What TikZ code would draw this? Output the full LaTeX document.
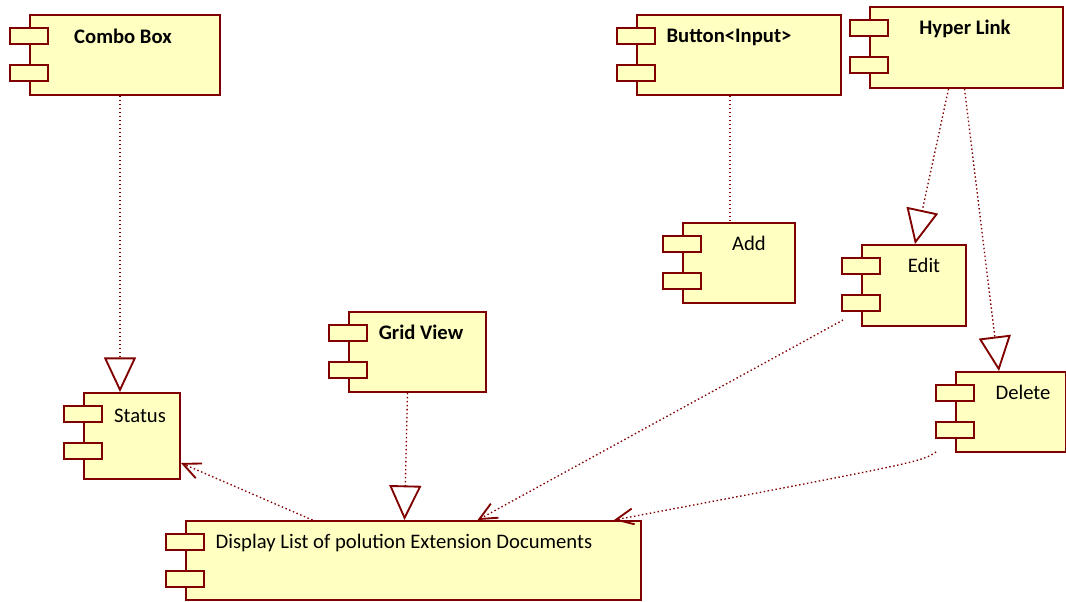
\documentclass[tikz,border=0pt]{standalone}
\usepackage{fontspec}
\setmainfont{Carlito}
\usetikzlibrary{arrows.meta,fit,calc}
\definecolor{compred}{RGB}{128,0,0}
\definecolor{compyellow}{RGB}{255,255,194}

\begin{document}
\begin{tikzpicture}[
        x=0.75pt, y=-0.75pt,
        comp/.style={draw=compred, fill=compyellow, line width=1.4pt, inner sep=0pt},
        tab/.style={draw=compred, fill=compyellow, line width=1.4pt, inner sep=0pt,
            minimum width=28pt, minimum height=12.5pt},
        title/.style={anchor=base, inner sep=0pt, font=\fontsize{15.5}{18}\selectfont},
        boldtitle/.style={title, font=\fontsize{15.5}{18}\selectfont\bfseries},
        dep/.style={draw=compred, line width=1pt, dash pattern=on 1.1pt off 1.9pt},
        realize/.style={dep, -{Triangle[open, length=26pt, width=24pt, line width=1.4pt]}},
        use/.style={dep, -{Straight Barb[length=13pt, width=12pt, line width=1.4pt]}}
    ]

    \useasboundingbox (0,0) rectangle (1066,601);

    % --- Components ---
    \node[comp, fit={(30,15) (220,95)}] (combo) {};
    \node[comp, fit={(637,15) (841,95)}] (button) {};
    \node[comp, fit={(870,7) (1063,88)}] (hyper) {};
    \node[comp, fit={(683,223) (795,303)}] (add) {};
    \node[comp, fit={(862,245) (966,326)}] (edit) {};
    \node[comp, fit={(956,372) (1066,452)}] (delete) {};
    \node[comp, fit={(84,393) (180,479)}] (status) {};
    \node[comp, fit={(349,312) (486,392)}] (grid) {};
    \node[comp, fit={(186,521) (641,600)}] (display) {};

    % the two little tabs on the left side
    \foreach \c in {combo,button,hyper,add,edit,delete,status,grid,display} {
        \node[tab] (\c-a) at ($(\c.north west)+(0,22)$) {};
        \node[tab] (\c-b) at ($(\c.north west)+(0,59)$) {};
    }

    % --- Titles ---
    \node[boldtitle] (combo-l) at (123,43) {Combo Box};
    \node[boldtitle] (button-l) at (729,42) {Button<Input>};
    \node[boldtitle] (hyper-l) at (965,34) {Hyper Link};
    \node[title] (add-l) at (749,250) {Add};
    \node[title] (edit-l) at (924,272) {Edit};
    \node[title] (delete-l) at (1023,399) {Delete};
    \node[title] (status-l) at (140,422) {Status};
    \node[boldtitle] (grid-l) at (421,339) {Grid View};
    \node[title] (display-l) at (404,548) {Display List of polution Extension Documents};

    % --- Dependencies ---
    \draw[realize] ($(combo.south)+(-5,0)$) -- ($(status.north)+(-12,0)$);
    \draw[dep] ($(button.south)+(-9,0)$) -- ($(add.north)+(-9,0)$);
    \draw[realize] ($(hyper.south)+(-18,0)$) -- ($(edit.north)+(1,0)$);
    \draw[realize] ($(hyper.south)+(-2,0)$) -- ($(delete.north)+(-12,0)$);
    \draw[realize] ($(grid.south)+(-10,0)$) -- ($(display.north)+(-9,0)$);

    \draw[use] ($(display.north)+(-101,0)$) -- ($(status.east)+(0,27)$);
    \draw[use] ($(edit.south west)+(-18,-7)$) -- ($(display.north)+(64,0)$);
    \draw[use] ($(delete.south west)+(-19,-1)$)
        .. controls ($(delete.south west)+(-34,9)$) .. ($(display.north east)+(-28,0)$);

\end{tikzpicture}
\end{document}
